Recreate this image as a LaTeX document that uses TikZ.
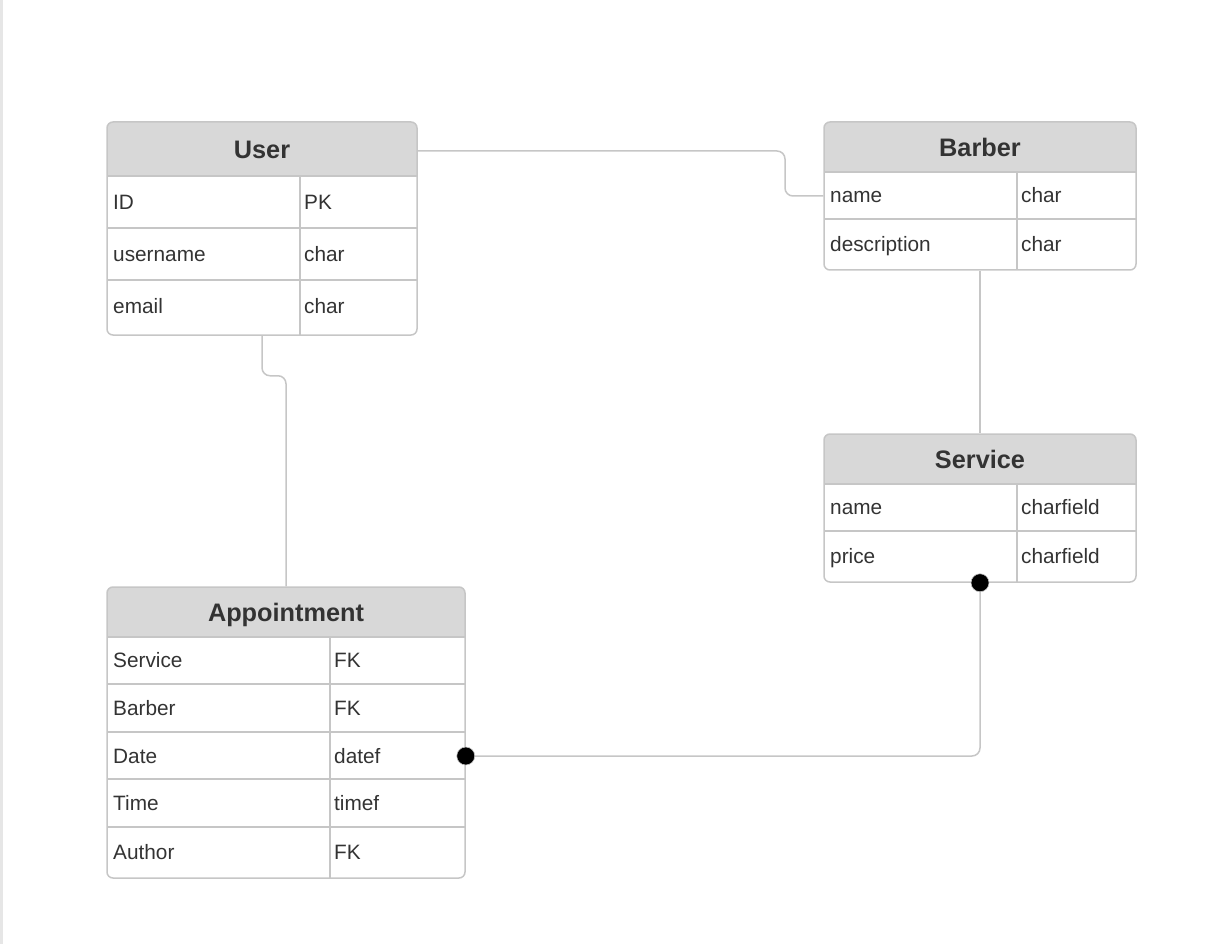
\documentclass[tikz,border=0pt]{standalone}
\usepackage{fontspec}
\setmainfont{Liberation Sans}
\usetikzlibrary{calc}
\definecolor{bordergray}{HTML}{C6C6C6}
\definecolor{hdrgray}{HTML}{D8D8D8}
\definecolor{txtgray}{HTML}{333333}
\definecolor{stripgray}{HTML}{E6E6E6}
\begin{document}
\begin{tikzpicture}[x=1pt,y=-1pt,
  tbl/.style={draw=bordergray, line width=1.5pt, rounded corners=6pt, inner sep=0pt, rectangle},
  hdr/.style={fill=hdrgray},
  grid/.style={draw=bordergray, line width=1.5pt},
  title/.style={font=\fontsize{25.3}{28}\selectfont\bfseries, text=txtgray, inner sep=0pt, anchor=base},
  cell/.style={font=\fontsize{20.8}{24}\selectfont, text=txtgray, inner sep=0pt, anchor=base west},
  conn/.style={draw=bordergray, line width=1.5pt, rounded corners=8pt},
  dot/.style={fill=black, draw=bordergray, line width=0.6pt}
]
\useasboundingbox (0,0) rectangle (1224,944);
\fill[stripgray] (0,0) rectangle (2.5,944);

% ---------- User ----------
\begin{scope}
\clip[rounded corners=6pt] (107,122) rectangle (417,335);
\fill[hdr] (107,122) rectangle (417,176);
\end{scope}
\draw[grid] (107,176) -- (417,176);
\draw[grid] (107,228) -- (417,228);
\draw[grid] (107,280) -- (417,280);
\draw[grid] (300,176) -- (300,335);
\node[tbl, minimum width=310pt, minimum height=213pt] (user) at (262,228.5) {};
\node[title] (userT) at (262,158.5) {User};
\node[cell] (u1a) at (113,209.3) {ID};
\node[cell] (u1b) at (304,209.3) {PK};
\node[cell] (u2a) at (113,261.3) {username};
\node[cell] (u2b) at (304,261.3) {char};
\node[cell] (u3a) at (113,313.3) {email};
\node[cell] (u3b) at (304,313.3) {char};

% ---------- Barber ----------
\begin{scope}
\clip[rounded corners=6pt] (824,122) rectangle (1136,270);
\fill[hdr] (824,122) rectangle (1136,172);
\end{scope}
\draw[grid] (824,172) -- (1136,172);
\draw[grid] (824,219) -- (1136,219);
\draw[grid] (1017,172) -- (1017,270);
\node[tbl, minimum width=312pt, minimum height=148pt] (barber) at (980,196) {};
\node[title] (barberT) at (980,156.5) {Barber};
\node[cell] (b1a) at (830,202.8) {name};
\node[cell] (b1b) at (1021,202.8) {char};
\node[cell] (b2a) at (830,251.3) {description};
\node[cell] (b2b) at (1021,251.3) {char};

% ---------- Service ----------
\begin{scope}
\clip[rounded corners=6pt] (824,434) rectangle (1136,582);
\fill[hdr] (824,434) rectangle (1136,484);
\end{scope}
\draw[grid] (824,484) -- (1136,484);
\draw[grid] (824,531) -- (1136,531);
\draw[grid] (1017,484) -- (1017,582);
\node[tbl, minimum width=312pt, minimum height=148pt] (service) at (980,508) {};
\node[title] (serviceT) at (980,468.5) {Service};
\node[cell] (s1a) at (830,514.8) {name};
\node[cell] (s1b) at (1021,514.8) {charfield};
\node[cell] (s2a) at (830,563.3) {price};
\node[cell] (s2b) at (1021,563.3) {charfield};

% ---------- Appointment ----------
\begin{scope}
\clip[rounded corners=6pt] (107,587) rectangle (465,878);
\fill[hdr] (107,587) rectangle (465,637);
\end{scope}
\draw[grid] (107,637) -- (465,637);
\draw[grid] (107,684) -- (465,684);
\draw[grid] (107,732) -- (465,732);
\draw[grid] (107,779) -- (465,779);
\draw[grid] (107,827) -- (465,827);
\draw[grid] (330,637) -- (330,878);
\node[tbl, minimum width=358pt, minimum height=291pt] (appt) at (286,732.5) {};
\node[title] (apptT) at (286,621.5) {Appointment};
\node[cell] (a1a) at (113,667.8) {Service};
\node[cell] (a1b) at (334,667.8) {FK};
\node[cell] (a2a) at (113,715.3) {Barber};
\node[cell] (a2b) at (334,715.3) {FK};
\node[cell] (a3a) at (113,763.3) {Date};
\node[cell] (a3b) at (334,763.3) {datef};
\node[cell] (a4a) at (113,810.3) {Time};
\node[cell] (a4b) at (334,810.3) {timef};
\node[cell] (a5a) at (113,859.8) {Author};
\node[cell] (a5b) at (334,859.8) {FK};

% ---------- Connectors ----------
\coordinate (j1) at (785,196);
\coordinate (jd) at (465,756);
\draw[conn] (user.east |- 0,151) -| (j1) -- (barber.west |- j1);
\draw[conn] (user.south) -- ++(0,40) -| (appt.north);
\draw[conn] (barber.south) -- (service.north);
\draw[conn] (service.south) |- (appt.east |- jd);
\fill[dot] (service.south) circle (9);
\fill[dot] (appt.east |- jd) circle (9);
\end{tikzpicture}
\end{document}
